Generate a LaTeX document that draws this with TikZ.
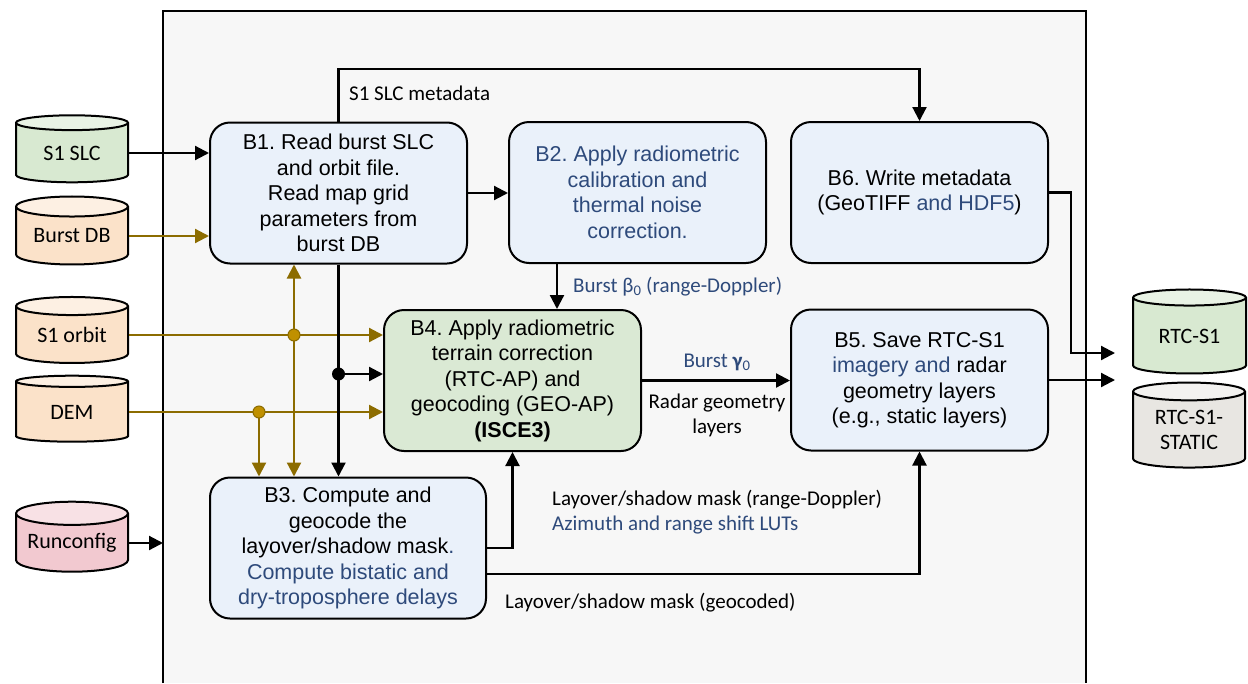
\documentclass[tikz,border=0pt]{standalone}
\usepackage{fontspec}
\setmainfont{Liberation Sans}
\newfontfamily\calfont{Carlito}
\usetikzlibrary{shapes.geometric,arrows.meta}
\frenchspacing
\definecolor{framebg}{HTML}{F7F7F7}
\definecolor{boxblue}{HTML}{EAF1FA}
\definecolor{boxgreen}{HTML}{DAE9D4}
\definecolor{tblue}{HTML}{2E4A7B}
\definecolor{gold}{HTML}{8C6C00}
\definecolor{golddot}{HTML}{C09000}
\definecolor{dbgreen}{HTML}{D8E9D1}
\definecolor{dbgreentop}{HTML}{E9F3E5}
\definecolor{dbpeach}{HTML}{FBE2C9}
\definecolor{dbpeachtop}{HTML}{FDF0E3}
\definecolor{dbpink}{HTML}{F2C9D0}
\definecolor{dbpinktop}{HTML}{F8E1E5}
\definecolor{dbgray}{HTML}{E8E6E2}
\definecolor{dbgraytop}{HTML}{F3F2F0}
\tikzset{
	box/.style={draw, line width=2pt, rounded corners=20pt, fill=boxblue, align=center,
		minimum width=257pt, minimum height=141pt, inner sep=0pt, font=\fontsize{21.5}{25.5}\selectfont},
	db/.style={cylinder, shape border rotate=90, aspect=0.26, draw, line width=2pt,
		cylinder uses custom fill, minimum width=112pt, inner sep=0pt, align=center,
		font=\calfont\fontsize{22}{25}\selectfont},
	arr/.style={line width=2.2pt, -{Triangle[length=14pt,width=14pt]}},
	garr/.style={arr, color=gold},
	lbl/.style={font=\calfont\fontsize{21}{25}\selectfont, inner sep=0pt},
}
\begin{document}
\begin{tikzpicture}[x=1pt,y=-1pt]
	\useasboundingbox (0,0) rectangle (1248,683);
	% frame
	\fill[framebg] (163,11) rectangle (1086,683);
	\draw[line width=2pt] (163,683) -- (163,11) -- (1086,11) -- (1086,683);
	\coordinate (fl) at (163,543);
	% inputs and outputs
	\node[db, minimum height=67pt, cylinder body fill=dbgreen, cylinder end fill=dbgreentop] (slc) at (72,153) {S1 SLC};
	\node[db, minimum height=68pt, cylinder body fill=dbpeach, cylinder end fill=dbpeachtop] (bdb) at (72,236) {Burst DB};
	\node[db, minimum height=66pt, cylinder body fill=dbpeach, cylinder end fill=dbpeachtop] (orb) at (72,335) {S1 orbit};
	\node[db, minimum height=66pt, cylinder body fill=dbpeach, cylinder end fill=dbpeachtop] (dem) at (72,412) {DEM};
	\node[db, minimum height=70pt, cylinder body fill=dbpink, cylinder end fill=dbpinktop] (rc) at (72,543) {Runconfig};
	\node[db, minimum width=113pt, minimum height=84pt, cylinder body fill=dbgreen, cylinder end fill=dbgreentop] (rtc) at (1189.5,336) {RTC-S1};
	\node[db, minimum height=85pt, cylinder body fill=dbgray, cylinder end fill=dbgraytop] (static) at (1189,430) {RTC-S1-\\STATIC};
	% blocks
	\node[box] (b1) at (338.5,193) {B1. Read burst SLC\\and orbit file.\\Read map grid\\parameters from\\burst DB};
	\node[box, text=tblue] (b2) at (637.5,192.5) {B2. Apply radiometric\\calibration and\\thermal noise\\correction.};
	\node[box] (b6) at (919.5,192.5) {B6. Write metadata\\(GeoTIFF \textcolor{tblue}{and HDF5})};
	\node[box, fill=boxgreen] (b4) at (512.5,380.5) {B4. Apply radiometric\\terrain correction\\(RTC-AP) and\\geocoding (GEO-AP)\\\textbf{(ISCE3)}};
	\node[box] (b5) at (919.5,380) {B5. Save RTC-S1\\\textcolor{tblue}{imagery and} radar\\geometry layers\\(e.g., static layers)};
	\node[box, minimum width=276pt] (b3) at (348,548) {B3. Compute and\\geocode the\\layover/shadow mask\textcolor{tblue}{.}\\\textcolor{tblue}{Compute bistatic and}\\\textcolor{tblue}{dry-troposphere delays}};
	% junctions
	\coordinate (meta) at (338.5,69);
	\coordinate (jm) at (338.5,374);
	\coordinate (jo) at (294,335);
	\coordinate (jd) at (259,412);
	\coordinate (beta) at (557,287);
	\coordinate (o1) at (1115,353);
	\coordinate (o2) at (1115,380);
	% connectors
	\draw[arr] (slc.east) -- (slc.east -| b1.west);
	\draw[garr] (bdb.east) -- (bdb.east -| b1.west);
	\draw[garr] (orb.east) -- (jo) -- (jo -| b4.west);
	\draw[garr] (dem.east) -- (jd) -- (jd -| b4.west);
	\draw[garr] (jo) -- (jo |- b1.south);
	\draw[garr] (jo) -- (jo |- b3.north);
	\draw[garr] (jd) -- (jd |- b3.north);
	\draw[arr] (rc.east) -- (fl);
	\draw[arr] (b1.north) -- (meta) -| (b6.north);
	\draw[arr] (b1.south) -- (b1.south |- b3.north);
	\draw[arr] (jm) -- (jm -| b4.west);
	\draw[arr] (b1.east) -- (b1.east -| b2.west);
	\draw[arr] (b2.south -| beta) -- (b4.north -| beta);
	\draw[arr] (b4.east) -- (b4.east -| b5.west);
	\draw[arr] (b3.east) -| (b4.south);
	\draw[arr] ([yshift=-26pt]b3.east) -| (b5.south);
	\draw[arr] (b6.east) -- ++(22,0) |- (o1);
	\draw[arr] (b5.east) -- (o2);
	\fill[golddot, draw=gold, line width=1pt] (jo) circle (6);
	\fill[golddot, draw=gold, line width=1pt] (jd) circle (6);
	\fill (jm) circle (6.5);
	% labels
	\node[lbl, anchor=west] (lmeta) at (349,93) {S1 SLC metadata};
	\node[lbl, anchor=west, text=tblue] (lbeta) at ([xshift=16pt]beta) {Burst β\textsubscript{0} (range-Doppler)};
	\node[lbl, text=tblue] (lgamma) at (717,362) {Burst \textbf{γ}\textsubscript{0}};
	\node[lbl, align=center] (lradar) at (717,415) {Radar geometry\\layers};
	\node[lbl, anchor=west] (lmask) at (552,500) {Layover/shadow mask (range-Doppler)};
	\node[lbl, anchor=west, text=tblue] (lluts) at (552,525) {Azimuth and range shift LUTs};
	\node[lbl, anchor=west] (lgeo) at (505,603) {Layover/shadow mask (geocoded)};
\end{tikzpicture}
\end{document}
